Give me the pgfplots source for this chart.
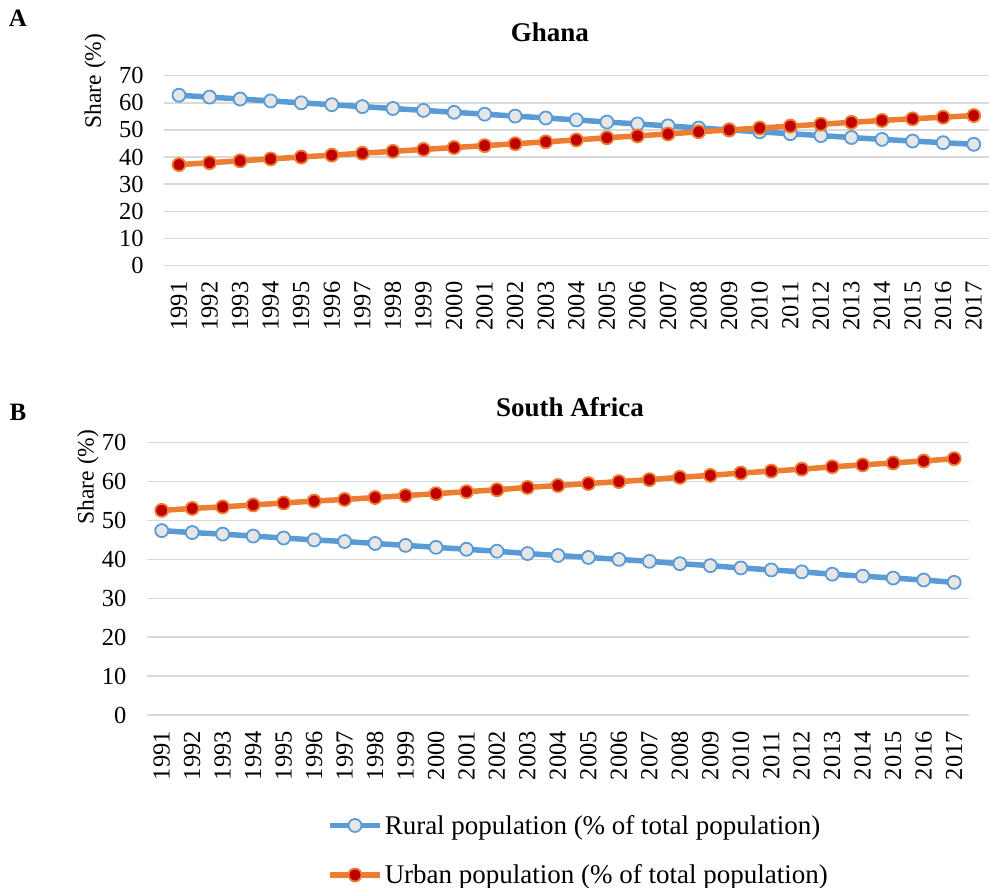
\documentclass[border=0pt]{standalone}
\usepackage{fontspec}
\setmainfont{Liberation Serif}
\usepackage{pgfplots}
\usepackage{pgfplotstable}
\pgfplotsset{compat=1.18}

\definecolor{ruralblue}{HTML}{5B9BD5}
\definecolor{ruralfill}{HTML}{E7E6E6}
\definecolor{urbanorange}{HTML}{ED7D31}
\definecolor{urbanred}{HTML}{C00000}
\definecolor{gridgray}{HTML}{D9D9D9}

% Ghana: rural and urban shares of total population (%)
\pgfplotstableread{
year rural urban
1991 62.8 37.2
1992 62.1 37.9
1993 61.4 38.6
1994 60.7 39.3
1995 60.0 40.0
1996 59.3 40.7
1997 58.6 41.4
1998 57.9 42.1
1999 57.2 42.8
2000 56.5 43.5
2001 55.8 44.2
2002 55.1 44.9
2003 54.4 45.6
2004 53.7 46.3
2005 52.9 47.1
2006 52.2 47.8
2007 51.5 48.5
2008 50.7 49.3
2009 50.0 50.0
2010 49.3 50.7
2011 48.6 51.4
2012 47.9 52.1
2013 47.2 52.8
2014 46.5 53.5
2015 45.9 54.1
2016 45.3 54.7
2017 44.7 55.3
}\ghana

% South Africa: rural and urban shares of total population (%)
\pgfplotstableread{
year rural urban
1991 47.4 52.6
1992 46.9 53.1
1993 46.5 53.5
1994 46.0 54.0
1995 45.5 54.5
1996 45.0 55.0
1997 44.6 55.4
1998 44.1 55.9
1999 43.6 56.4
2000 43.1 56.9
2001 42.6 57.4
2002 42.1 57.9
2003 41.5 58.5
2004 41.0 59.0
2005 40.5 59.5
2006 40.0 60.0
2007 39.5 60.5
2008 38.9 61.1
2009 38.4 61.6
2010 37.8 62.2
2011 37.3 62.7
2012 36.8 63.2
2013 36.2 63.8
2014 35.7 64.3
2015 35.2 64.8
2016 34.7 65.3
2017 34.1 65.9
}\southafrica

\newcommand{\txtfont}{\fontsize{23.5bp}{28bp}\selectfont}
\newcommand{\tickfont}{\fontsize{24.5bp}{29bp}\selectfont}
\newcommand{\legfont}{\fontsize{27bp}{32bp}\selectfont}

\pgfplotsset{
  sharepanel/.style={
    scale only axis,
    xmin=1990.5, xmax=2017.5,
    ymin=0, ymax=70,
    xtick={1991,...,2017},
    ytick={0,10,...,70},
    axis line style={draw=none},
    major tick length=0pt,
    ymajorgrids,
    grid style={gridgray, line width=1.4bp},
    /pgf/number format/assume math mode=true,
    /pgf/number format/1000 sep={},
    tick label style={font=\tickfont, text=black},
    yticklabel style={anchor=east, inner sep=0pt, xshift=-20bp},
    xticklabel style={rotate=90, anchor=east, inner xsep=16bp, inner ysep=0pt},
    title style={font=\bfseries\fontsize{27bp}{32bp}\selectfont, anchor=center},
    every axis y label/.style={rotate=90, anchor=center, font=\txtfont},
    clip=false,
  },
  ruralline/.style={color=ruralblue, line width=5.5bp, line join=round,
    mark=*, mark size=6.5bp,
    mark options={fill=ruralfill, draw=ruralblue, line width=1.8bp}},
  urbanline/.style={color=urbanorange, line width=5.5bp, line join=round,
    mark=*, mark size=6.5bp,
    mark options={fill=urbanred, draw=urbanorange, line width=1.8bp}},
}

\begin{document}
\begin{tikzpicture}
\useasboundingbox (0,0) rectangle (989bp,888bp);

% Panel A: Ghana
\begin{axis}[sharepanel,
  at={(163.7bp,622.5bp)}, anchor=south west,
  width=825.3bp, height=189.8bp,
  title={Ghana},
  title style={at={(axis description cs:0.468,1.199)}},
  ylabel={Share (\%)},
  ylabel style={at={(axis description cs:-0.083,0.972)}},
]
\addplot[ruralline] table[x=year, y=rural] {\ghana};
\addplot[urbanline] table[x=year, y=urban] {\ghana};
\end{axis}

% Panel B: South Africa
\begin{axis}[sharepanel,
  at={(146.5bp,173bp)}, anchor=south west,
  width=822.9bp, height=272.3bp,
  title={South Africa},
  title style={at={(axis description cs:0.5147,1.109)}},
  ylabel={Share (\%)},
  ylabel style={at={(axis description cs:-0.0711,0.874)}},
  legend style={at={(axis description cs:0.2194,-0.36)}, anchor=north west,
    draw=none, fill=none, font=\legfont, inner sep=0pt, row sep=25bp,
    nodes={inner sep=2bp}},
  legend cell align=left,
  legend image code/.code={
    \draw[mark repeat=2, mark phase=2, #1]
      plot coordinates {(0bp,0bp) (25bp,0bp) (50bp,0bp)};},
]
\addplot[ruralline] table[x=year, y=rural] {\southafrica};
\addlegendentry{Rural population (\% of total population)}
\addplot[urbanline] table[x=year, y=urban] {\southafrica};
\addlegendentry{Urban population (\% of total population)}
\end{axis}

\node[font=\bfseries\fontsize{25bp}{30bp}\selectfont] at (18bp,870bp) {A};
\node[font=\bfseries\fontsize{25bp}{30bp}\selectfont] at (18bp,476bp) {B};
\end{tikzpicture}
\end{document}
